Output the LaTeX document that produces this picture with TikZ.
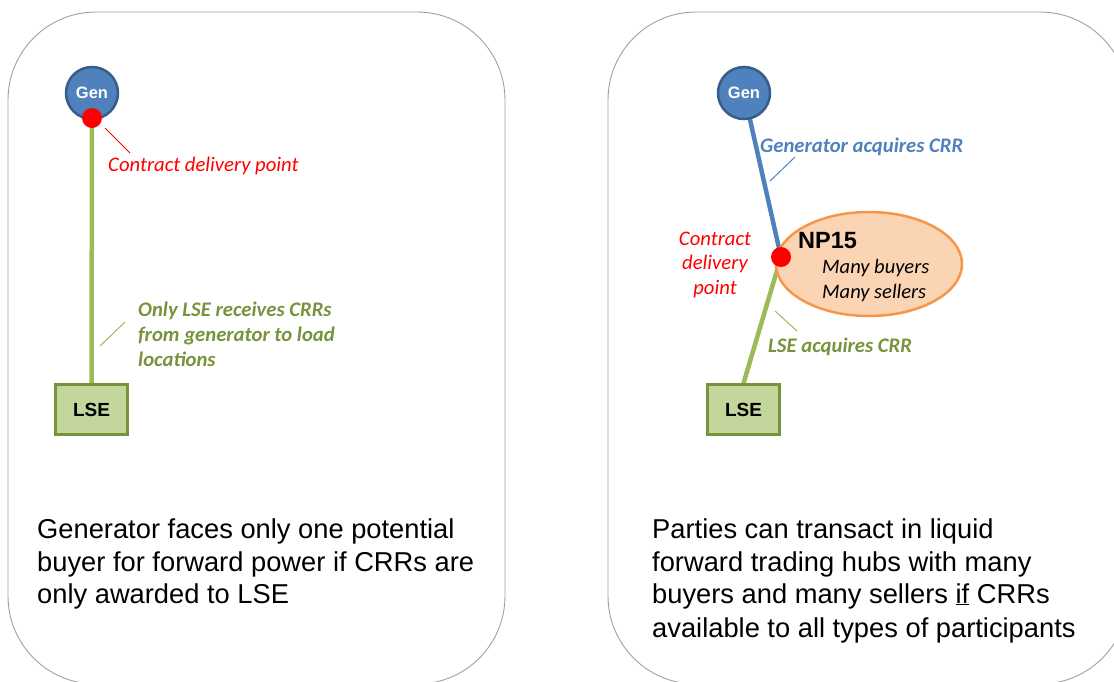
\documentclass[tikz,border=0pt]{standalone}
\usepackage{fontspec}
\setmainfont{Liberation Sans}
\newfontfamily\calib{Carlito}
\usetikzlibrary{backgrounds,shapes.geometric}
\definecolor{genblue}{HTML}{4F81BD}
\definecolor{genedge}{HTML}{385D8A}
\definecolor{lsefill}{HTML}{C3D69B}
\definecolor{lseedge}{HTML}{77933C}
\definecolor{linegreen}{HTML}{9BBB59}
\definecolor{labgreen}{HTML}{77933C}
\definecolor{npfill}{HTML}{FBD4B4}
\definecolor{npedge}{HTML}{F79646}
\definecolor{panelgray}{HTML}{A0A0A0}
\tikzset{
  panel/.style={draw=panelgray, line width=0.9pt, rounded corners=88pt},
  gennode/.style={circle, fill=genblue, draw=genedge, line width=2.5pt, minimum size=52pt, inner sep=0pt, text=white, font=\bfseries\fontsize{16.5}{18}\selectfont},
  lsenode/.style={rectangle, fill=lsefill, draw=lseedge, line width=2.5pt, minimum width=72pt, minimum height=50pt, inner sep=0pt, font=\bfseries\fontsize{19}{21}\selectfont},
  reddot/.style={circle, fill=red, draw=none, minimum size=20pt, inner sep=0pt},
  wire/.style={line width=4.5pt},
  leader/.style={line width=1pt},
  redlab/.style={text=red, font=\calib\itshape\fontsize{20.7}{24}\selectfont, inner sep=0pt},
  greenlab/.style={text=labgreen, font=\calib\bfseries\itshape\fontsize{20.7}{24}\selectfont, inner sep=0pt},
  bluelab/.style={text=genblue, font=\calib\bfseries\itshape\fontsize{20.7}{24}\selectfont, inner sep=0pt},
  blacklab/.style={text=black, font=\calib\itshape\fontsize{20.5}{24}\selectfont, inner sep=0pt},
  bodytext/.style={font=\fontsize{27.3}{33}\selectfont, inner sep=0pt, anchor=base west},
  hub/.style={ellipse, fill=npfill, draw=npedge, line width=2.5pt, minimum width=186pt, minimum height=104pt, inner sep=0pt},
}
\begin{document}
\begin{tikzpicture}[x=1pt, y=-1pt]
\useasboundingbox (0,0) rectangle (1114,681);
% panels
\draw[panel] (8,12) rectangle (505,684);
\draw[panel] (608,12) rectangle (1128,684);

% ---- left panel ----
\node[gennode] (genL) at (92,93) {Gen};
\node[reddot] (dotL) at (92,118) {};
\node[lsenode] (lseL) at (91.5,409.5) {LSE};
\begin{scope}[on background layer]
  \draw[wire, linegreen] (dotL.center) -- (lseL.north);
\end{scope}
\coordinate (rl1) at (105,128);
\coordinate (rl2) at (130,153);
\draw[leader, red] (rl1) -- (rl2);
\node[redlab, anchor=base west] (cdpL) at (108,171) {Contract delivery point};
\coordinate (gl1) at (100,346);
\coordinate (gl2) at (125,322);
\draw[leader, linegreen] (gl1) -- (gl2);
\node[greenlab, anchor=base west] (olse1) at (138,316) {Only LSE receives CRRs};
\node[greenlab, anchor=base west] (olse2) at (138,341) {from generator to load};
\node[greenlab, anchor=base west] (olse3) at (138,366) {locations};

\node[bodytext] (tl1) at (37,538) {Generator faces only one potential};
\node[bodytext] (tl2) at (37,571) {buyer for forward power if CRRs are};
\node[bodytext] (tl3) at (37,603) {only awarded to LSE};

% ---- right panel ----
\node[gennode] (genR) at (744,93) {Gen};
\node[lsenode] (lseR) at (743.5,409.5) {LSE};
\node[hub] (np) at (869,264) {};
\node[reddot] (dotR) at (781,257) {};
\begin{scope}[on background layer]
  \draw[wire, genblue] (genR.center) -- (dotR.center);
  \draw[wire, linegreen] (dotR.center) -- (lseR.north);
\end{scope}
\node[anchor=base west, inner sep=0pt, font=\bfseries\fontsize{23.5}{26}\selectfont] (nplab) at (798,248) {NP15};
\node[blacklab, anchor=base west] (mb) at (822,273) {Many buyers};
\node[blacklab, anchor=base west] (ms) at (822,298) {Many sellers};

\node[redlab, anchor=base] (cdr1) at (715,245) {Contract};
\node[redlab, anchor=base] (cdr2) at (715,269) {delivery};
\node[redlab, anchor=base] (cdr3) at (715,294) {point};

\coordinate (bl1) at (770,181);
\coordinate (bl2) at (795,157);
\draw[leader, genblue] (bl1) -- (bl2);
\node[bluelab, anchor=base west] (gacq) at (760,152) {Generator acquires CRR};

\coordinate (gr1) at (775,311);
\coordinate (gr2) at (797,331);
\draw[leader, linegreen] (gr1) -- (gr2);
\node[greenlab, anchor=base west] (lacq) at (768,352) {LSE acquires CRR};

\node[bodytext] (tr1) at (652,538) {Parties can transact in liquid};
\node[bodytext] (tr2) at (652,571) {forward trading hubs with many};
\node[bodytext] (tr3) at (652,603) {buyers and many sellers \underline{if} CRRs};
\node[bodytext] (tr4) at (652,637) {available to all types of participants};
\end{tikzpicture}
\end{document}
